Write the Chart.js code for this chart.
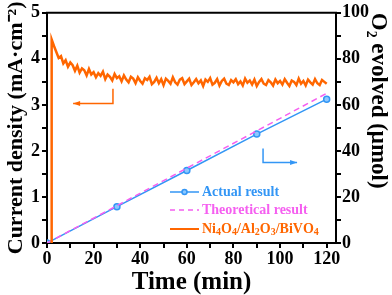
<!DOCTYPE html>
<html>
<head>
<meta charset="utf-8">
<script src="https://cdn.jsdelivr.net/npm/chart.js@4"></script>
<style>
  html, body { margin: 0; padding: 0; background: #fff; }
  #wrap { width: 392px; height: 295px; }
</style>
</head>
<body>
<div id="wrap"><canvas id="chart"></canvas></div>
<script>
// photocurrent trace (min, mA.cm-2)
const currentTime = [2, 2, 3, 4, 5, 6, 7, 8, 9, 10, 11, 12, 13, 14, 15, 16, 17, 18, 19, 20,
  21, 22, 23, 24, 25, 26, 27, 28, 29, 30, 31, 32, 33, 34, 35, 36, 37, 38, 39, 40,
  41, 42, 43, 44, 45, 46, 47, 48, 49, 50, 51, 52, 53, 54, 55, 56, 57, 58, 59, 60,
  61, 62, 63, 64, 65, 66, 67, 68, 69, 70, 71, 72, 73, 74, 75, 76, 77, 78, 79, 80,
  81, 82, 83, 84, 85, 86, 87, 88, 89, 90, 91, 92, 93, 94, 95, 96, 97, 98, 99, 100,
  101, 102, 103, 104, 105, 106, 107, 108, 109, 110, 111, 112, 113, 114, 115, 116, 117, 118, 119, 120];
const currentValue = [0, 4.42, 4.28, 4.15, 4.02, 4.06, 3.90, 3.97, 3.83, 3.92, 3.86, 3.74, 3.85, 3.70, 3.79, 3.75, 3.64, 3.78, 3.66, 3.71,
  3.60, 3.69, 3.63, 3.72, 3.56, 3.66, 3.61, 3.53, 3.67, 3.58, 3.62, 3.51, 3.64, 3.55, 3.49, 3.61, 3.57, 3.47, 3.60, 3.52,
  3.46, 3.58, 3.54, 3.61, 3.45, 3.50, 3.59, 3.47, 3.56, 3.43, 3.57, 3.52, 3.46, 3.60, 3.49, 3.44, 3.55, 3.58, 3.45, 3.51,
  3.57, 3.43, 3.49, 3.56, 3.47, 3.53, 3.41, 3.55, 3.50, 3.58, 3.44, 3.48, 3.56, 3.42, 3.52, 3.57, 3.46, 3.43, 3.54, 3.49,
  3.56, 3.45, 3.51, 3.42, 3.57, 3.48, 3.53, 3.44, 3.55, 3.41, 3.50, 3.56, 3.46, 3.43, 3.54, 3.49, 3.42, 3.55, 3.47, 3.52,
  3.44, 3.56, 3.48, 3.41, 3.53, 3.50, 3.43, 3.57, 3.46, 3.52, 3.42, 3.55, 3.49, 3.44, 3.56, 3.47, 3.43, 3.54, 3.50, 3.46];

// O2 evolution (min, umol)
const o2Time = [0, 30, 60, 90, 120];
const o2Actual = [0, 15.8, 31.5, 47.3, 62.5];
const o2Theory = [0, 16.2, 32.5, 48.7, 65.0];

const timeTicks = [0, 10, 20, 30, 40, 50, 60, 70, 80, 90, 100, 110, 120];

const legendNames = ['Actual result', 'Theoretical result', 'Ni4O4/Al2O3/BiVO4'];

const blue = 'rgb(51,150,245)';
const pink = 'rgb(245,95,240)';
const orange = 'rgb(255,102,0)';
const fontFamily = '"Liberation Serif", "Times New Roman", serif';

const toPoints = (xs, ys) => xs.map((x, i) => ({ x: x, y: ys[i] }));

// frame, arrows and the in-plot legend
const extras = {
  id: 'extras',
  afterDraw(chart) {
    const { ctx, chartArea: a } = chart;
    const xs = chart.scales.x, yl = chart.scales.y, yr = chart.scales.yO2;
    ctx.save();
    ctx.strokeStyle = '#000';
    ctx.lineWidth = 2;
    ctx.beginPath();
    ctx.moveTo(a.left - 1, a.top);
    ctx.lineTo(a.right + 1, a.top);
    ctx.stroke();

    const arrow = (pts, color) => {
      ctx.strokeStyle = color;
      ctx.fillStyle = color;
      ctx.lineWidth = 1.5;
      ctx.beginPath();
      pts.forEach((p, i) => (i ? ctx.lineTo(p[0], p[1]) : ctx.moveTo(p[0], p[1])));
      ctx.stroke();
      const [px, py] = pts[pts.length - 2];
      const [ex, ey] = pts[pts.length - 1];
      const dir = Math.sign(ex - px);
      ctx.beginPath();
      ctx.moveTo(ex, ey);
      ctx.lineTo(ex - dir * 7, ey - 2.5);
      ctx.lineTo(ex - dir * 7, ey + 2.5);
      ctx.closePath();
      ctx.fill();
    };
    const ox = xs.getPixelForValue(28.3);
    arrow([[ox, yl.getPixelForValue(3.35)], [ox, yl.getPixelForValue(3.03)],
      [xs.getPixelForValue(11.2), yl.getPixelForValue(3.03)]], orange);
    const bx = xs.getPixelForValue(92.7);
    arrow([[bx, yr.getPixelForValue(41)], [bx, yr.getPixelForValue(35)],
      [xs.getPixelForValue(107.3), yr.getPixelForValue(35)]], blue);

    // legend
    const lx0 = 170, lx1 = 199, tx = 202;
    const rows = [192, 210, 229];
    ctx.textBaseline = 'middle';
    ctx.textAlign = 'left';
    // actual
    ctx.strokeStyle = blue; ctx.lineWidth = 1.5; ctx.setLineDash([]);
    ctx.beginPath(); ctx.moveTo(lx0, rows[0]); ctx.lineTo(lx1, rows[0]); ctx.stroke();
    ctx.fillStyle = 'rgb(140,200,255)';
    ctx.beginPath(); ctx.arc((lx0 + lx1) / 2, rows[0], 2.5, 0, Math.PI * 2); ctx.fill(); ctx.stroke();
    ctx.fillStyle = blue;
    ctx.font = 'bold 14px ' + fontFamily;
    ctx.fillText(legendNames[0], tx, rows[0]);
    // theoretical
    ctx.strokeStyle = pink; ctx.setLineDash([5, 4]);
    ctx.beginPath(); ctx.moveTo(lx0, rows[1]); ctx.lineTo(lx1, rows[1]); ctx.stroke();
    ctx.setLineDash([]);
    ctx.fillStyle = pink;
    ctx.fillText(legendNames[1], tx, rows[1]);
    // sample name with subscript digits
    ctx.strokeStyle = orange; ctx.lineWidth = 2;
    ctx.beginPath(); ctx.moveTo(lx0, rows[2]); ctx.lineTo(lx1, rows[2]); ctx.stroke();
    ctx.fillStyle = orange;
    let x = tx;
    for (const ch of legendNames[2]) {
      const sub = /[0-9]/.test(ch);
      ctx.font = 'bold ' + (sub ? 10 : 14) + 'px ' + fontFamily;
      ctx.fillText(ch, x, rows[2] + (sub ? 3 : 0));
      x += ctx.measureText(ch).width;
    }
    ctx.restore();
  }
};

const tickFont = { family: fontFamily, size: 18, weight: 'bold' };
const axisGrid = { display: true, drawOnChartArea: false, drawTicks: true, tickLength: 5, color: '#000', lineWidth: 2 };
const axisBorder = { display: true, color: '#000', width: 2 };

new Chart(document.getElementById('chart'), {
  type: 'line',
  data: {
    datasets: [
      {
        label: legendNames[2],
        data: toPoints(currentTime, currentValue),
        yAxisID: 'y',
        borderColor: orange,
        borderWidth: 2.5,
        pointRadius: 0,
        tension: 0,
      },
      {
        label: legendNames[1],
        data: toPoints(o2Time, o2Theory),
        yAxisID: 'yO2',
        borderColor: pink,
        borderWidth: 1.5,
        borderDash: [6, 4],
        pointRadius: 0,
      },
      {
        label: legendNames[0],
        data: toPoints(o2Time, o2Actual),
        yAxisID: 'yO2',
        borderColor: blue,
        borderWidth: 1.5,
        pointRadius: 3,
        pointBackgroundColor: 'rgb(140,200,255)',
        pointBorderColor: blue,
        pointBorderWidth: 1.5,
      },
    ],
  },
  options: {
    responsive: true,
    maintainAspectRatio: false,
    animation: false,
    layout: { padding: 0 },
    plugins: { legend: { display: false }, tooltip: { enabled: false } },
    scales: {
      x: {
        type: 'linear',
        min: 0,
        max: 124,
        afterFit: (s) => { s.height = 52; },
        afterBuildTicks: (s) => { s.ticks = timeTicks.map((v) => ({ value: v })); },
        ticks: {
          autoSkip: false,
          maxRotation: 0,
          padding: 1,
          color: '#000',
          font: tickFont,
          callback: (v) => (v % 20 === 0 ? v : ''),
        },
        grid: axisGrid,
        border: axisBorder,
        title: { display: true, text: 'Time (min)', color: '#000',
          font: { family: fontFamily, size: 25, weight: 'bold' }, padding: { top: 0, bottom: -3 } },
      },
      y: {
        position: 'left',
        min: 0,
        max: 5,
        afterFit: (s) => { s.width = 47; },
        ticks: {
          stepSize: 0.5,
          autoSkip: false,
          padding: 2,
          color: '#000',
          font: tickFont,
          callback: (v) => (Number.isInteger(v) ? v : ''),
        },
        grid: axisGrid,
        border: axisBorder,
        title: { display: true, text: 'Current density (mA·cm⁻²)', color: '#000',
          font: { family: fontFamily, size: 22, weight: 'bold' }, padding: { top: 3, bottom: 0 } },
      },
      yO2: {
        position: 'right',
        min: 0,
        max: 100,
        afterFit: (s) => { s.width = 56; },
        ticks: {
          stepSize: 10,
          autoSkip: false,
          padding: 1,
          color: '#000',
          font: tickFont,
          callback: (v) => (v % 20 === 0 ? v : ''),
        },
        grid: axisGrid,
        border: axisBorder,
        title: { display: true, text: 'O₂ evolved (μmol)', color: '#000',
          font: { family: fontFamily, size: 23, weight: 'bold' }, padding: 0, align: 'end' },
      },
    },
  },
  plugins: [extras],
});
</script>
</body>
</html>
